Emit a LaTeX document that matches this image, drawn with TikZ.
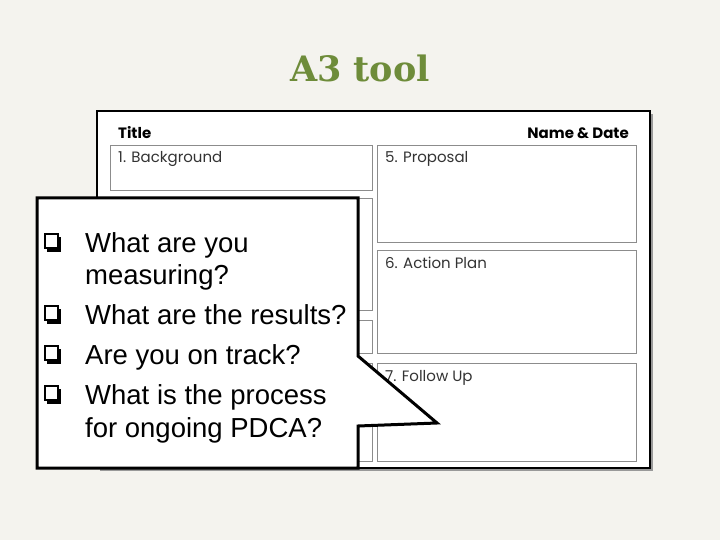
\documentclass[tikz,border=0pt]{standalone}
\usepackage{fontspec}
\setmainfont{Liberation Sans}
\newfontfamily\formfont{Poppins}
\newfontfamily\headfont{DejaVu Serif}
\definecolor{paper}{HTML}{F4F3EE}
\definecolor{olive}{HTML}{6E8C3A}
\tikzset{
  field/.style={draw=black!45, line width=0.8pt, fill=white},
  fieldlabel/.style={anchor=base west, inner sep=0pt, text=black!80,
    font=\formfont\fontsize{15}{17}\selectfont},
  sheethead/.style={anchor=base, inner sep=0pt,
    font=\formfont\bfseries\fontsize{15}{17}\selectfont},
  question/.style={anchor=base west, inner sep=0pt,
    font=\fontsize{27.5}{33}\selectfont},
  qbox/.style={draw, line width=1.5pt, fill=white}
}
\begin{document}
\begin{tikzpicture}[x=1pt,y=-1pt]
\fill[paper] (0,0) rectangle (720,540);
\node[font=\headfont\bfseries\fontsize{35}{40}\selectfont, text=olive] (heading) at (360,68) {A3 tool};
% the A3 sheet
\fill[black!40] (100,114) rectangle (653,471);
\draw[fill=white, line width=1.6pt] (97,111) rectangle (650,468);
\node[sheethead, anchor=base west] (sheettitle) at (118,139) {Title};
\node[sheethead, anchor=base east] (namedate) at (629,139) {Name \& Date};
\foreach \xa/\ya/\xb/\yb in {110/198/372/310, 110/320/372/353, 110/363/372/461}
  \draw[field] (\xa,\ya) rectangle (\xb,\yb);
\foreach \n/\xa/\ya/\xb/\yb/\t in {1/110/145/372/190/1. Background,
    5/377/145/636/242/5. Proposal,
    6/377/250/636/353/6. Action Plan,
    7/377/363/636/461/7. Follow Up} {
  \draw[field] (\xa,\ya) rectangle (\xb,\yb);
  \node[fieldlabel] (f\n) at (\xa+8,\ya+18) {\t};
}
% callout
\draw[line width=3pt, fill=white, line join=miter]
  (37,198) -- (358,198) -- (358,356) -- (437,423) -- (358,426)
  -- (358,468) -- (37,468) -- cycle;
\foreach \y in {234,306,346,386} {
  \fill (47,\y+3) rectangle (61,\y+18);
  \draw[qbox] (45,\y) rectangle (58,\y+14);
}
\node[question] (q1a) at (85,252) {What are you};
\node[question] (q1b) at (85,284) {measuring?};
\node[question] (q2) at (85,324) {What are the results?};
\node[question] (q3) at (85,364) {Are you on track?};
\node[question] (q4a) at (85,404) {What is the process};
\node[question] (q4b) at (85,437) {for ongoing PDCA?};
\end{tikzpicture}
\end{document}
